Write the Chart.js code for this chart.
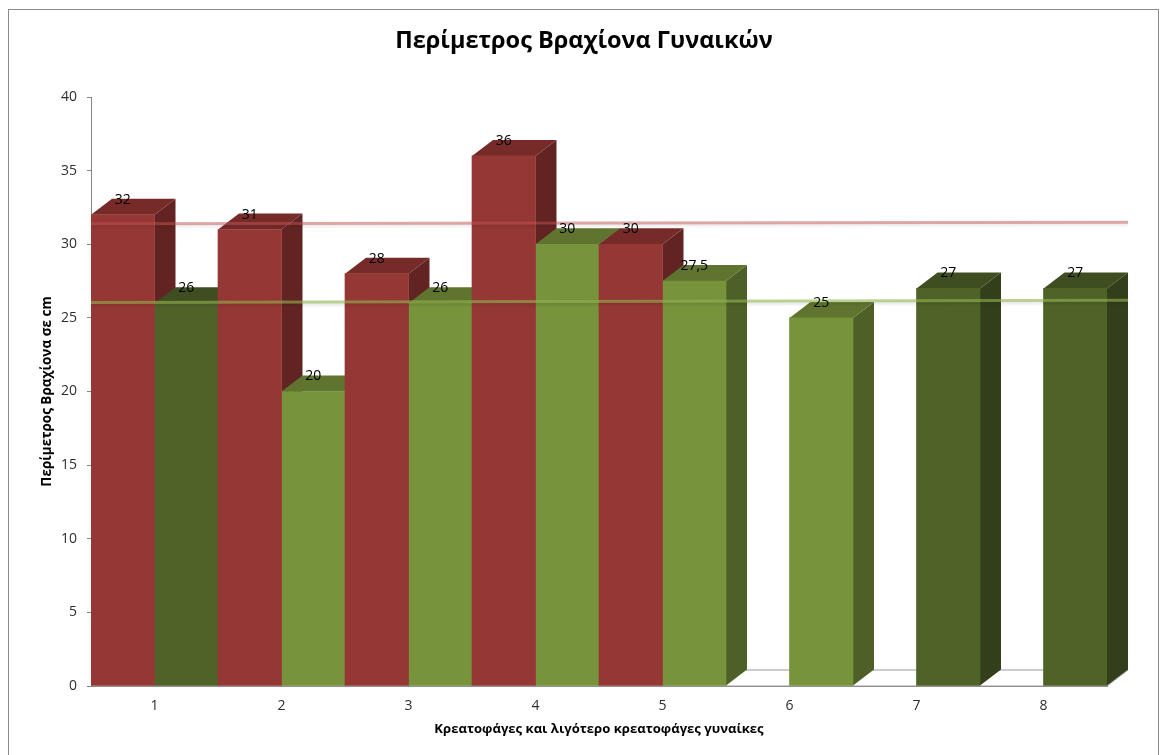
<!DOCTYPE html>
<html>
<head>
<meta charset="utf-8">
<title>Περίμετρος Βραχίονα Γυναικών</title>
<script src="https://cdn.jsdelivr.net/npm/chart.js@4.4.1/dist/chart.umd.min.js"></script>
<style>
  html, body { margin: 0; padding: 0; background: #ffffff; }
  #wrap { width: 1162px; height: 755px; }
</style>
</head>
<body>
<div id="wrap"><canvas id="c" width="1162" height="755"></canvas></div>
<script>
// ---- data ----
const categories = ['1', '2', '3', '4', '5', '6', '7', '8'];
const meatEaters = [32, 31, 28, 36, 30, null, null, null];
const lessMeatEaters = [26, 20, 26, 30, 27.5, 25, 27, 27];
const lessMeatShade = ['dark', 'light', 'light', 'light', 'light', 'light', 'dark', 'dark'];
const meatTrend = [31.4, 31.5];          // trend line value at left / right end
const lessMeatTrend = [26.05, 26.2];
const yTickMin = 0, yTickMax = 40, yTickStep = 5;

const chartTitle = 'Περίμετρος Βραχίονα Γυναικών';
const xTitle = 'Κρεατοφάγες και λιγότερο κρεατοφάγες γυναίκες';
const yTitle = 'Περίμετρος Βραχίονα σε cm';

// ---- styling ----
const FONT = '"Open Sans", "Noto Sans", "DejaVu Sans", sans-serif';
const DEPTH_X = 21, DEPTH_Y = 16;
const palette = {
  red:   { front: '#953735', top: '#762b29', side: '#612422' },
  dark:  { front: '#4f6228', top: '#3f4e20', side: '#333f1a' },
  light: { front: '#77933c', top: '#5e742f', side: '#4d6027' }
};
const redFaces = meatEaters.map(() => palette.red);
const greenFaces = lessMeatShade.map(s => palette[s]);

function fmt(v) { return String(v).replace('.', ','); }

function poly(ctx, pts, fill) {
  ctx.beginPath();
  ctx.moveTo(pts[0][0], pts[0][1]);
  for (let i = 1; i < pts.length; i++) ctx.lineTo(pts[i][0], pts[i][1]);
  ctx.closePath();
  ctx.fillStyle = fill;
  ctx.fill();
}

// frame, floor, 3D faces, trend lines, value labels, title
const extrude = {
  id: 'extrude',
  beforeDraw(chart) {
    const ctx = chart.ctx;
    ctx.save();
    ctx.strokeStyle = '#8c8c8c';
    ctx.lineWidth = 1;
    ctx.strokeRect(8.5, 9.5, 1150, 780);
    ctx.fillStyle = '#000';
    ctx.font = 'bold 23.5px ' + FONT;
    ctx.textAlign = 'center';
    ctx.textBaseline = 'middle';
    ctx.fillText(chartTitle, 584, 41);
    ctx.restore();
  },
  beforeDatasetsDraw(chart) {
    const ctx = chart.ctx;
    const { left, right, bottom } = chart.chartArea;
    ctx.save();
    // floor
    ctx.beginPath();
    ctx.moveTo(left, bottom);
    ctx.lineTo(right, bottom);
    ctx.lineTo(right + DEPTH_X, bottom - DEPTH_Y);
    ctx.lineTo(left + DEPTH_X, bottom - DEPTH_Y);
    ctx.closePath();
    ctx.fillStyle = '#ffffff';
    ctx.fill();
    ctx.strokeStyle = '#9a9a9a';
    ctx.lineWidth = 1;
    ctx.stroke();

    // side and top faces, left to right so nearer neighbours overlap correctly
    const faces = [];
    chart.data.datasets.forEach((ds, di) => {
      const meta = chart.getDatasetMeta(di);
      meta.data.forEach((el, i) => {
        if (ds.data[i] === null || ds.data[i] === undefined) return;
        const p = el.getProps(['x', 'y', 'base', 'width'], true);
        faces.push({ l: p.x - p.width / 2, r: p.x + p.width / 2, top: p.y, base: p.base, c: ds.faces[i] });
      });
    });
    faces.sort((a, b) => a.l - b.l);
    faces.forEach(f => {
      poly(ctx, [[f.r, f.top], [f.r + DEPTH_X, f.top - DEPTH_Y], [f.r + DEPTH_X, f.base - DEPTH_Y], [f.r, f.base]], f.c.side);
      poly(ctx, [[f.l, f.top], [f.r, f.top], [f.r + DEPTH_X, f.top - DEPTH_Y], [f.l + DEPTH_X, f.top - DEPTH_Y]], f.c.top);
    });
    ctx.restore();
  },
  afterDatasetsDraw(chart) {
    const ctx = chart.ctx;
    const y = chart.scales.y;
    const { left, right } = chart.chartArea;
    ctx.save();
    // trend lines
    [[meatTrend, 'rgba(196,84,84,0.5)'], [lessMeatTrend, 'rgba(150,182,80,0.6)']].forEach(([t, col]) => {
      ctx.beginPath();
      ctx.moveTo(left, y.getPixelForValue(t[0]));
      ctx.lineTo(right + DEPTH_X, y.getPixelForValue(t[1]));
      ctx.strokeStyle = col;
      ctx.lineWidth = 3;
      ctx.shadowColor = 'rgba(0,0,0,0.18)';
      ctx.shadowBlur = 3;
      ctx.shadowOffsetY = 2;
      ctx.stroke();
    });
    ctx.shadowColor = 'transparent';
    // value labels on the top faces
    ctx.fillStyle = '#000';
    ctx.font = '14px ' + FONT;
    ctx.textAlign = 'center';
    ctx.textBaseline = 'middle';
    chart.data.datasets.forEach((ds, di) => {
      const meta = chart.getDatasetMeta(di);
      meta.data.forEach((el, i) => {
        const v = ds.data[i];
        if (v === null || v === undefined) return;
        const p = el.getProps(['x', 'y'], true);
        ctx.fillText(fmt(v), p.x, p.y - DEPTH_Y + 1);
      });
    });
    ctx.restore();
  }
};

new Chart(document.getElementById('c'), {
  type: 'bar',
  data: {
    labels: categories,
    datasets: [
      {
        label: 'Κρεατοφάγες',
        data: meatEaters,
        backgroundColor: redFaces.map(c => c.front),
        faces: redFaces,
        borderWidth: 0,
        barPercentage: 1,
        categoryPercentage: 1
      },
      {
        label: 'Λιγότερο κρεατοφάγες',
        data: lessMeatEaters,
        backgroundColor: greenFaces.map(c => c.front),
        faces: greenFaces,
        borderWidth: 0,
        barPercentage: 1,
        categoryPercentage: 1
      }
    ]
  },
  options: {
    responsive: false,
    animation: false,
    devicePixelRatio: 1,
    layout: { padding: { left: 27, right: 55, top: 97, bottom: 10 } },
    plugins: {
      legend: { display: false },
      title: { display: false },
      tooltip: { enabled: false }
    },
    scales: {
      x: {
        grid: { display: true, drawOnChartArea: false, drawTicks: false },
        border: { display: true, color: '#868686', width: 1 },
        ticks: { color: '#2e2e2e', font: { family: FONT, size: 14 }, padding: 12 },
        title: { display: true, text: xTitle, color: '#000', font: { family: FONT, size: 13.1, weight: 'bold' }, padding: { top: 0, bottom: 8 } },
        afterFit(scale) { scale.height = 59; }
      },
      y: {
        min: yTickMin,
        max: yTickMax,
        grid: { display: true, drawOnChartArea: false, drawTicks: true, tickLength: 4, color: '#868686' },
        border: { display: true, color: '#868686', width: 1 },
        ticks: { stepSize: yTickStep, color: '#2e2e2e', font: { family: FONT, size: 14 }, padding: 10 },
        title: { display: true, text: yTitle, color: '#000', font: { family: FONT, size: 13.5, weight: 'bold' }, padding: { top: 12, bottom: 0 } },
        afterFit(scale) { scale.width = 64; }
      }
    }
  },
  plugins: [extrude]
});
</script>
</body>
</html>
